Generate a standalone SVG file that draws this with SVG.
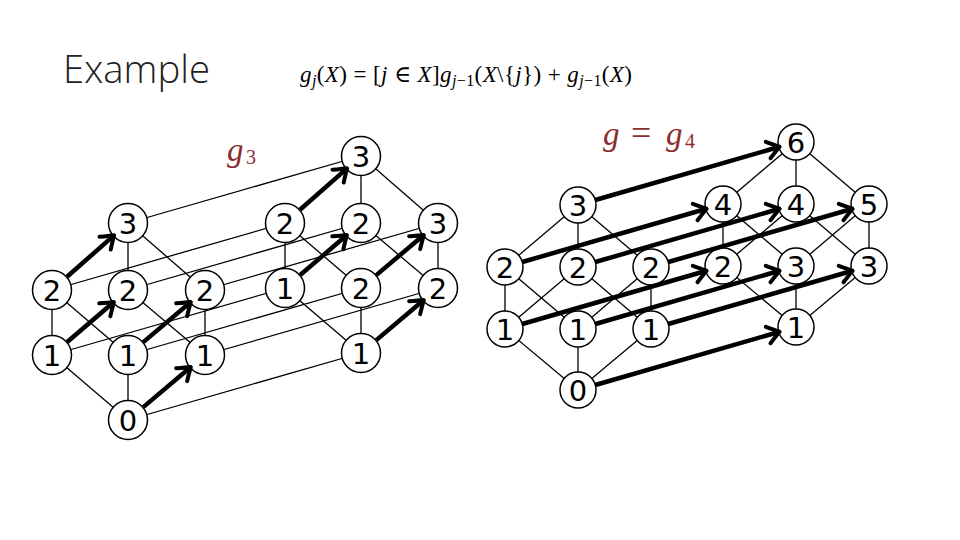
<svg xmlns="http://www.w3.org/2000/svg" width="960" height="540" viewBox="0 0 960 540">
<style>
.title{font-family:"Open Sans","Liberation Sans",sans-serif;font-weight:300;font-size:38px;fill:#222}
.math{font-family:"Liberation Serif","DejaVu Serif",serif;font-size:23px;fill:#000}
.lab{font-family:"Liberation Serif","DejaVu Serif",serif;fill:#8c2d2d}
.e{stroke:#000;stroke-width:1.3;fill:none}
.a{stroke:#000;stroke-width:4.5;fill:none;marker-end:url(#ah)}
.n circle{fill:#fff;stroke:#000;stroke-width:1.5}
.n text{font-family:"DejaVu Sans","Liberation Sans",sans-serif;font-size:29px;text-anchor:middle;fill:#000}
</style>
<defs>
<marker id="ah" viewBox="-16 -11 18 22" markerWidth="18" markerHeight="22" refX="-2" refY="0" orient="auto" markerUnits="userSpaceOnUse">
<path d="M-12,-8.5 Q-4.5,-3 0,0 Q-4.5,3 -12,8.5" fill="none" stroke="#000" stroke-width="4" stroke-linecap="round" stroke-linejoin="round"/>
</marker>
</defs>
<rect width="960" height="540" fill="#fff"/>
<text x="63" y="83" class="title" textLength="147" lengthAdjust="spacingAndGlyphs">Example</text>
<text x="300" y="82" class="math" textLength="332"><tspan font-style="italic">g</tspan><tspan font-style="italic" font-size="16" dy="4">j</tspan><tspan dy="-4">(</tspan><tspan font-style="italic">X</tspan><tspan>) = [</tspan><tspan font-style="italic">j</tspan><tspan> ∈ </tspan><tspan font-style="italic">X</tspan><tspan>]</tspan><tspan font-style="italic">g</tspan><tspan font-size="16" dy="4"><tspan font-style="italic">j</tspan>−1</tspan><tspan dy="-4">(</tspan><tspan font-style="italic">X</tspan><tspan>\{</tspan><tspan font-style="italic">j</tspan><tspan>}) + </tspan><tspan font-style="italic">g</tspan><tspan font-size="16" dy="4"><tspan font-style="italic">j</tspan>−1</tspan><tspan dy="-4">(</tspan><tspan font-style="italic">X</tspan><tspan>)</tspan></text>
<text class="lab" y="161"><tspan x="227" font-style="italic" font-size="33">g</tspan><tspan x="246" dy="3" font-size="20">3</tspan></text>
<text class="lab" y="145"><tspan x="603" font-style="italic" font-size="33">g</tspan><tspan x="631" font-size="36">=</tspan><tspan x="666" font-style="italic" font-size="33">g</tspan><tspan x="685" dy="3" font-size="20">4</tspan></text>

<g id="edges">
<line class="e" x1="128" y1="223" x2="128" y2="290"/>
<line class="e" x1="128" y1="223" x2="205" y2="290"/>
<line class="e" x1="52" y1="290" x2="52" y2="355"/>
<line class="e" x1="52" y1="290" x2="128" y2="355"/>
<line class="e" x1="128" y1="290" x2="205" y2="355"/>
<line class="e" x1="205" y1="290" x2="205" y2="355"/>
<line class="e" x1="52" y1="355" x2="128" y2="420"/>
<line class="e" x1="128" y1="355" x2="128" y2="420"/>
<line class="e" x1="361" y1="156" x2="361" y2="223"/>
<line class="e" x1="361" y1="156" x2="438" y2="223"/>
<line class="e" x1="285" y1="223" x2="285" y2="288"/>
<line class="e" x1="285" y1="223" x2="361" y2="288"/>
<line class="e" x1="361" y1="223" x2="438" y2="288"/>
<line class="e" x1="438" y1="223" x2="438" y2="288"/>
<line class="e" x1="285" y1="288" x2="361" y2="353"/>
<line class="e" x1="361" y1="288" x2="361" y2="353"/>
<line class="e" x1="128" y1="223" x2="361" y2="156"/>
<line class="e" x1="52" y1="290" x2="285" y2="223"/>
<line class="e" x1="128" y1="290" x2="361" y2="223"/>
<line class="e" x1="205" y1="290" x2="438" y2="223"/>
<line class="e" x1="52" y1="355" x2="285" y2="288"/>
<line class="e" x1="128" y1="355" x2="361" y2="288"/>
<line class="e" x1="205" y1="355" x2="438" y2="288"/>
<line class="e" x1="128" y1="420" x2="361" y2="353"/>
<line class="e" x1="578" y1="205" x2="505" y2="267"/>
<line class="e" x1="578" y1="205" x2="578" y2="267"/>
<line class="e" x1="578" y1="205" x2="651" y2="267"/>
<line class="e" x1="505" y1="267" x2="505" y2="329"/>
<line class="e" x1="505" y1="267" x2="578" y2="329"/>
<line class="e" x1="578" y1="267" x2="505" y2="329"/>
<line class="e" x1="578" y1="267" x2="651" y2="329"/>
<line class="e" x1="651" y1="267" x2="578" y2="329"/>
<line class="e" x1="651" y1="267" x2="651" y2="329"/>
<line class="e" x1="505" y1="329" x2="578" y2="390"/>
<line class="e" x1="578" y1="329" x2="578" y2="390"/>
<line class="e" x1="651" y1="329" x2="578" y2="390"/>
<line class="e" x1="796" y1="142" x2="723" y2="204"/>
<line class="e" x1="796" y1="142" x2="796" y2="204"/>
<line class="e" x1="796" y1="142" x2="869" y2="204"/>
<line class="e" x1="723" y1="204" x2="723" y2="266"/>
<line class="e" x1="723" y1="204" x2="796" y2="266"/>
<line class="e" x1="796" y1="204" x2="723" y2="266"/>
<line class="e" x1="796" y1="204" x2="869" y2="266"/>
<line class="e" x1="869" y1="204" x2="796" y2="266"/>
<line class="e" x1="869" y1="204" x2="869" y2="266"/>
<line class="e" x1="723" y1="266" x2="796" y2="327"/>
<line class="e" x1="796" y1="266" x2="796" y2="327"/>
<line class="e" x1="869" y1="266" x2="796" y2="327"/>
</g>

<g id="a3-top" class="n"><circle cx="128" cy="223" r="19.5"/><text x="128" y="233.5">3</text></g>
<g id="a3-2a" class="n"><circle cx="52" cy="290" r="19.5"/><text x="52" y="300.5">2</text></g>
<g id="a3-2b" class="n"><circle cx="128" cy="290" r="19.5"/><text x="128" y="300.5">2</text></g>
<g id="a3-2c" class="n"><circle cx="205" cy="290" r="19.5"/><text x="205" y="300.5">2</text></g>
<g id="a3-1a" class="n"><circle cx="52" cy="355" r="19.5"/><text x="52" y="365.5">1</text></g>
<g id="a3-1b" class="n"><circle cx="128" cy="355" r="19.5"/><text x="128" y="365.5">1</text></g>
<g id="a3-1c" class="n"><circle cx="205" cy="355" r="19.5"/><text x="205" y="365.5">1</text></g>
<g id="a3-0" class="n"><circle cx="128" cy="420" r="19.5"/><text x="128" y="430.5">0</text></g>

<g id="b3-top" class="n"><circle cx="361" cy="156" r="19.5"/><text x="361" y="166.5">3</text></g>
<g id="b3-2a" class="n"><circle cx="285" cy="223" r="19.5"/><text x="285" y="233.5">2</text></g>
<g id="b3-2b" class="n"><circle cx="361" cy="223" r="19.5"/><text x="361" y="233.5">2</text></g>
<g id="b3-2c" class="n"><circle cx="438" cy="223" r="19.5"/><text x="438" y="233.5">3</text></g>
<g id="b3-1a" class="n"><circle cx="285" cy="288" r="19.5"/><text x="285" y="298.5">1</text></g>
<g id="b3-1b" class="n"><circle cx="361" cy="288" r="19.5"/><text x="361" y="298.5">2</text></g>
<g id="b3-1c" class="n"><circle cx="438" cy="288" r="19.5"/><text x="438" y="298.5">2</text></g>
<g id="b3-0" class="n"><circle cx="361" cy="353" r="19.5"/><text x="361" y="363.5">1</text></g>

<g id="a4-top" class="n"><circle cx="578" cy="205" r="18"/><text x="578" y="215.5">3</text></g>
<g id="a4-2a" class="n"><circle cx="505" cy="267" r="18"/><text x="505" y="277.5">2</text></g>
<g id="a4-2b" class="n"><circle cx="578" cy="267" r="18"/><text x="578" y="277.5">2</text></g>
<g id="a4-2c" class="n"><circle cx="651" cy="267" r="18"/><text x="651" y="277.5">2</text></g>
<g id="a4-1a" class="n"><circle cx="505" cy="329" r="18"/><text x="505" y="339.5">1</text></g>
<g id="a4-1b" class="n"><circle cx="578" cy="329" r="18"/><text x="578" y="339.5">1</text></g>
<g id="a4-1c" class="n"><circle cx="651" cy="329" r="18"/><text x="651" y="339.5">1</text></g>
<g id="a4-0" class="n"><circle cx="578" cy="390" r="18"/><text x="578" y="400.5">0</text></g>

<g id="b4-top" class="n"><circle cx="796" cy="142" r="18"/><text x="796" y="152.5">6</text></g>
<g id="b4-2a" class="n"><circle cx="723" cy="204" r="18"/><text x="723" y="214.5">4</text></g>
<g id="b4-2b" class="n"><circle cx="796" cy="204" r="18"/><text x="796" y="214.5">4</text></g>
<g id="b4-2c" class="n"><circle cx="869" cy="204" r="18"/><text x="869" y="214.5">5</text></g>
<g id="b4-1a" class="n"><circle cx="723" cy="266" r="18"/><text x="723" y="276.5">2</text></g>
<g id="b4-1b" class="n"><circle cx="796" cy="266" r="18"/><text x="796" y="276.5">3</text></g>
<g id="b4-1c" class="n"><circle cx="869" cy="266" r="18"/><text x="869" y="276.5">3</text></g>
<g id="b4-0" class="n"><circle cx="796" cy="327" r="18"/><text x="796" y="337.5">1</text></g>

<g id="arrows">
<line class="a" x1="67" y1="276.8" x2="112.6" y2="236.6"/>
<line class="a" x1="67.2" y1="342" x2="112.4" y2="303.3"/>
<line class="a" x1="143.3" y1="342.1" x2="189.3" y2="303.2"/>
<line class="a" x1="143.3" y1="407.1" x2="189.3" y2="368.2"/>
<line class="a" x1="300" y1="209.8" x2="345.6" y2="169.6"/>
<line class="a" x1="300.2" y1="275" x2="345.4" y2="236.3"/>
<line class="a" x1="376.3" y1="275.1" x2="422.3" y2="236.2"/>
<line class="a" x1="376.3" y1="340.1" x2="422.3" y2="301.2"/>
<line class="a" x1="595.3" y1="200" x2="777.75" y2="147.27"/>
<line class="a" x1="522.3" y1="262" x2="704.75" y2="209.27"/>
<line class="a" x1="595.3" y1="262" x2="777.75" y2="209.27"/>
<line class="a" x1="668.3" y1="262" x2="850.75" y2="209.27"/>
<line class="a" x1="522.3" y1="324" x2="704.75" y2="271.27"/>
<line class="a" x1="595.3" y1="324" x2="777.75" y2="271.27"/>
<line class="a" x1="668.3" y1="324" x2="850.75" y2="271.27"/>
<line class="a" x1="595.3" y1="385" x2="777.75" y2="332.27"/>
</g>
</svg>
